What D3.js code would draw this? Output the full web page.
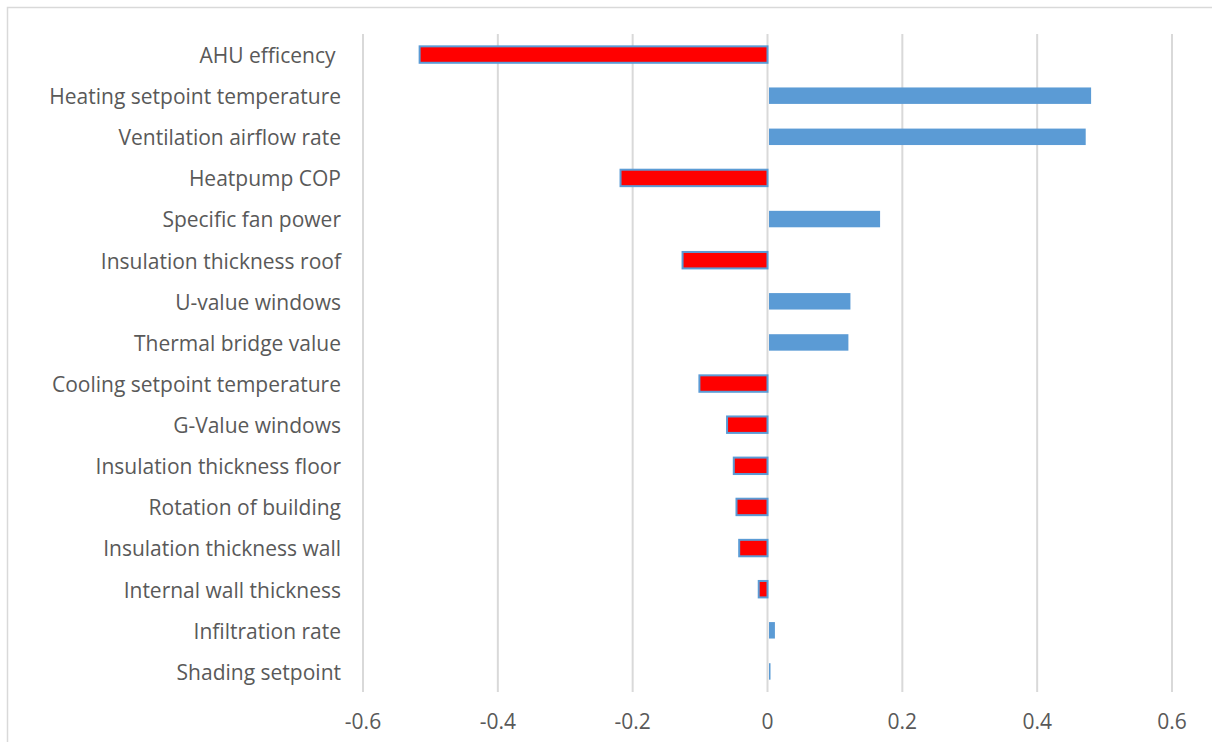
<!DOCTYPE html>
<html><head><meta charset="utf-8">
<script src="https://cdn.jsdelivr.net/npm/d3@7"></script>
<style>body{margin:0;background:#fff}svg{display:block}text{white-space:pre}</style>
</head><body>
<svg id="c" width="1212" height="742"></svg>
<script>
const categories = ["AHU efficency ","Heating setpoint temperature","Ventilation airflow rate","Heatpump COP","Specific fan power","Insulation thickness roof","U-value windows","Thermal bridge value","Cooling setpoint temperature","G-Value windows","Insulation thickness floor","Rotation of building","Insulation thickness wall","Internal wall thickness","Infiltration rate","Shading setpoint"];
const values = [-0.516,0.480,0.472,-0.218,0.167,-0.126,0.123,0.120,-0.101,-0.060,-0.050,-0.046,-0.042,-0.013,0.011,0.003];
const xTicks = [-0.6,-0.4,-0.2,0,0.2,0.4,0.6];

const svg = d3.select("#c");
const font = "'Open Sans', sans-serif";
svg.append("rect").attr("x",7.5).attr("y",7.5).attr("width",1300).attr("height",800)
  .attr("fill","none").attr("stroke","#d9d9d9").attr("stroke-width",1.5);

const x = d3.scaleLinear().domain([-0.6,0.6]).range([363,1172]);
const y = d3.scaleBand().domain(categories).range([34,692]).paddingInner(0.6).paddingOuter(0.3);

svg.append("g").selectAll("line").data(xTicks).join("line")
  .attr("x1",d=>x(d)).attr("x2",d=>x(d)).attr("y1",34).attr("y2",692)
  .attr("stroke","#d9d9d9").attr("stroke-width",2);

svg.append("g").selectAll("rect").data(values).join("rect")
  .attr("x",(d)=>d<0?x(d):x(0)+1.5)
  .attr("width",d=>Math.max(Math.abs(x(d)-x(0))-(d<0?0:1.5),1.5))
  .attr("y",(d,i)=>y(categories[i]))
  .attr("height",y.bandwidth())
  .attr("fill",d=>d<0?"#ff0000":"#5b9bd5")
  .attr("stroke",d=>d<0?"#5b9bd5":"none")
  .attr("stroke-width",2);

svg.append("g").selectAll("text").data(categories).join("text")
  .attr("x",341).attr("y",d=>y(d)+y.bandwidth()/2+1)
  .attr("dy","0.35em").attr("text-anchor","end")
  .attr("font-family",font).attr("font-size",21).attr("fill","#595959")
  .text(d=>d);

svg.append("g").selectAll("text").data(xTicks).join("text")
  .attr("x",d=>x(d)).attr("y",722).attr("dy","0.35em").attr("text-anchor","middle")
  .attr("font-family",font).attr("font-size",21).attr("fill","#595959")
  .text(d=>d3.format("")(d).replace("−","-"));
</script>
</body></html>
